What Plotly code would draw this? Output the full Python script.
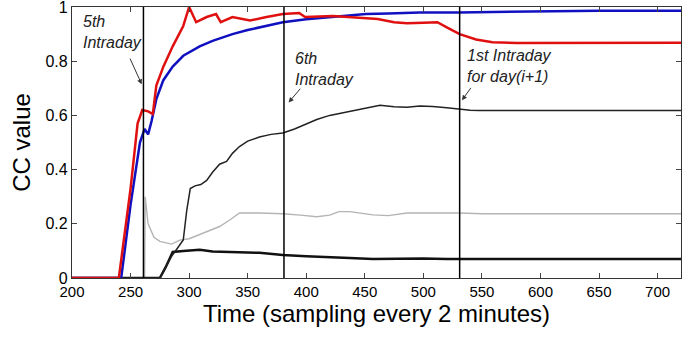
import plotly.graph_objects as go

# ---- data ----
red_x = [200, 240, 250, 256, 260, 265, 269, 272, 278, 286, 295, 300, 306, 315, 323, 327, 337, 352, 365, 380, 394, 399, 423, 440, 461, 475, 486, 500, 512, 520, 531, 545, 559, 580, 600, 650, 720]
red_y = [0, 0, 0.33, 0.57, 0.62, 0.615, 0.605, 0.71, 0.78, 0.855, 0.93, 1.0, 0.944, 0.963, 0.974, 0.944, 0.963, 0.95, 0.962, 0.974, 0.978, 0.963, 0.967, 0.962, 0.956, 0.944, 0.94, 0.942, 0.944, 0.925, 0.9, 0.88, 0.87, 0.867, 0.867, 0.868, 0.868]

blue_x = [200, 242, 250, 258, 262, 265, 268, 272, 278, 286, 295, 309, 320, 337, 350, 365, 380, 400, 420, 437, 451, 470, 497, 530, 560, 605, 650, 720]
blue_y = [0, 0, 0.27, 0.5, 0.55, 0.53, 0.58, 0.66, 0.73, 0.78, 0.82, 0.855, 0.875, 0.9, 0.915, 0.93, 0.944, 0.955, 0.962, 0.967, 0.974, 0.976, 0.98, 0.98, 0.982, 0.985, 0.986, 0.986]

dark_x = [200, 275, 280, 285, 290, 295, 298, 301, 305, 310, 315, 320, 326, 332, 337, 343, 350, 360, 370, 380, 390, 400, 409, 420, 437, 450, 463, 475, 486, 497, 508, 520, 531, 540, 548, 600, 720]
dark_y = [0, 0, 0.04, 0.08, 0.11, 0.14, 0.25, 0.33, 0.34, 0.345, 0.36, 0.39, 0.42, 0.43, 0.46, 0.485, 0.505, 0.52, 0.53, 0.535, 0.55, 0.57, 0.585, 0.6, 0.615, 0.625, 0.637, 0.632, 0.63, 0.635, 0.633, 0.628, 0.622, 0.619, 0.618, 0.618, 0.618]

gray_x = [200, 262, 262.5, 265, 270, 275, 285, 292, 300, 309, 318, 326, 335, 343, 360, 380, 395, 409, 420, 428, 437, 457, 470, 486, 531, 550, 720]
gray_y = [0, 0, 0.3, 0.2, 0.15, 0.135, 0.125, 0.14, 0.145, 0.16, 0.175, 0.19, 0.215, 0.24, 0.24, 0.237, 0.232, 0.226, 0.232, 0.245, 0.245, 0.233, 0.23, 0.24, 0.24, 0.237, 0.237]

low_x = [200, 275, 280, 286, 295, 309, 320, 337, 360, 380, 400, 437, 457, 500, 520, 720]
low_y = [0, 0, 0.04, 0.096, 0.1, 0.104, 0.098, 0.096, 0.093, 0.085, 0.08, 0.074, 0.07, 0.072, 0.07, 0.07]

intraday_times = [261, 381, 531]
intraday_labels = ["<i>5th<br>Intraday</i>", "<i>6th<br>Intraday</i>", "<i>1st Intraday<br>for day(i+1)</i>"]
label_pos = [(208, 0.985), (388.5, 0.85), (535.5, 0.86)]
arrow_tail = [(249, 0.815), (396, 0.704), (541.5, 0.707)]
arrow_head = [(259.5, 0.715), (385, 0.648), (533, 0.656)]

x_ticks = [200, 250, 300, 350, 400, 450, 500, 550, 600, 650, 700]
y_ticks = [0, 0.2, 0.4, 0.6, 0.8, 1]
y_tick_text = ["0", "0.2", "0.4", "0.6", "0.8", "1"]

fig = go.Figure()
fig.add_trace(go.Scatter(x=gray_x, y=gray_y, mode="lines", line=dict(color="#b4b4b4", width=1.4)))
fig.add_trace(go.Scatter(x=low_x, y=low_y, mode="lines", line=dict(color="#111111", width=2.5)))
fig.add_trace(go.Scatter(x=dark_x, y=dark_y, mode="lines", line=dict(color="#222222", width=1.5)))
fig.add_trace(go.Scatter(x=blue_x, y=blue_y, mode="lines", line=dict(color="#1010c0", width=2.5)))
fig.add_trace(go.Scatter(x=red_x, y=red_y, mode="lines", line=dict(color="#e01010", width=2.5)))

for t in intraday_times:
    fig.add_shape(type="line", x0=t, x1=t, y0=0, y1=1, xref="x", yref="y",
                  line=dict(color="black", width=1.5))

for lab, (lx, ly) in zip(intraday_labels, label_pos):
    fig.add_annotation(x=lx, y=ly, text=lab, showarrow=False, xanchor="left", yanchor="top",
                       align="left", font=dict(family="Liberation Sans, Arial", size=16, color="#222"))
for (tx, ty), (hx, hy) in zip(arrow_tail, arrow_head):
    fig.add_annotation(x=hx, y=hy, ax=tx, ay=ty, axref="x", ayref="y", xref="x", yref="y",
                       text="", showarrow=True, arrowhead=2, arrowsize=1, arrowwidth=1,
                       arrowcolor="#333")

fig.update_layout(
    width=698, height=337,
    margin=dict(l=72, r=17, t=7, b=59),
    paper_bgcolor="white", plot_bgcolor="white",
    showlegend=False,
    font=dict(family="Liberation Sans, Arial", color="black", size=15),
)
fig.update_xaxes(range=[200, 720], tickvals=x_ticks, ticks="inside", ticklen=5, mirror="ticks",
                 showline=True, linecolor="#333", linewidth=1.2, showgrid=False, zeroline=False,
                 tickfont=dict(size=15), automargin=False, ticklabeloverflow="allow",
                 title=dict(text="Time (sampling every 2 minutes)", font=dict(size=24), standoff=2))
fig.update_yaxes(range=[0, 1], tickvals=y_ticks, ticktext=y_tick_text, ticks="inside", ticklen=5,
                 mirror="ticks", showline=True, linecolor="#333", linewidth=1.2, showgrid=False,
                 zeroline=False, tickfont=dict(size=16), automargin=False, ticklabeloverflow="allow",
                 title=dict(text="CC value", font=dict(size=24), standoff=8))

# remove the default 8px page margin so the figure fills the 698x337 window exactly
fig.write_html("out.html", config={"displayModeBar": False},
               post_script="document.body.style.margin='0';")
